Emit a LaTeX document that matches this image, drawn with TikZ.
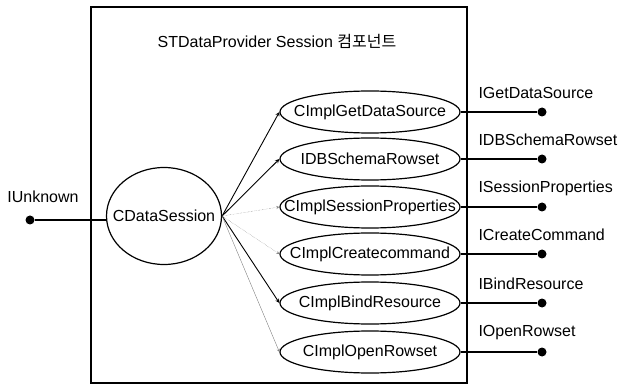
\documentclass[tikz,border=0pt]{standalone}
\usepackage{fontspec}
\setmainfont{Liberation Sans}
\newfontfamily\krfont{Noto Sans CJK KR}
\usetikzlibrary{shapes.geometric}
\begin{document}
\begin{tikzpicture}[x=1pt, y=-1pt, font=\fontsize{16}{19}\selectfont,
    part/.style={draw, ellipse, line width=1.2pt, inner sep=0pt},
    plug/.style={circle, fill, inner sep=0pt, minimum size=9pt},
    darkarrow/.style={-stealth, black, line width=0.9pt},
    faintarrow/.style={-stealth, gray, densely dotted},
    greyarrow/.style={-stealth, gray}]
            \useasboundingbox (0,0) rectangle (618,387);
            \draw[line width=1.2pt] (91,7) rectangle (467,383);
            \node (title) at (277,41) {STDataProvider Session {\krfont 컴포넌트}};
            % session object and its IUnknown
            \node[part, minimum width=115pt, minimum height=97pt] (sess) at (164,216) {\makebox[0pt]{CDataSession}};
            \node[plug] (unk) at (30,220) {};
            \node (unklbl) at (43,197) {IUnknown};
            \draw[line width=1.8pt] (unk) -- (unk -| sess.west);
            % implemented interfaces
            \foreach \i/\y/\cname/\iname/\sty in {
                1/112/CImplGetDataSource/IGetDataSource/darkarrow,
                2/159/IDBSchemaRowset/IDBSchemaRowset/darkarrow,
                3/207/CImplSessionProperties/ISessionProperties/faintarrow,
                4/254/CImplCreatecommand/ICreateCommand/faintarrow,
                5/303/CImplBindResource/IBindResource/darkarrow,
                6/352/CImplOpenRowset/IOpenRowset/greyarrow} {
                \node[part, minimum width=180pt, minimum height=42pt] (impl\i) at (370,\y) {\makebox[0pt]{\cname}};
                \node[plug] (plug\i) at (542,\y) {};
                \node[anchor=west] (lbl\i) at (475,\y-19) {\iname};
                \draw[line width=1.8pt] (impl\i) -- (plug\i);
                \draw[\sty] (sess.east) -- (impl\i.west);
            }
        \end{tikzpicture}
\end{document}
